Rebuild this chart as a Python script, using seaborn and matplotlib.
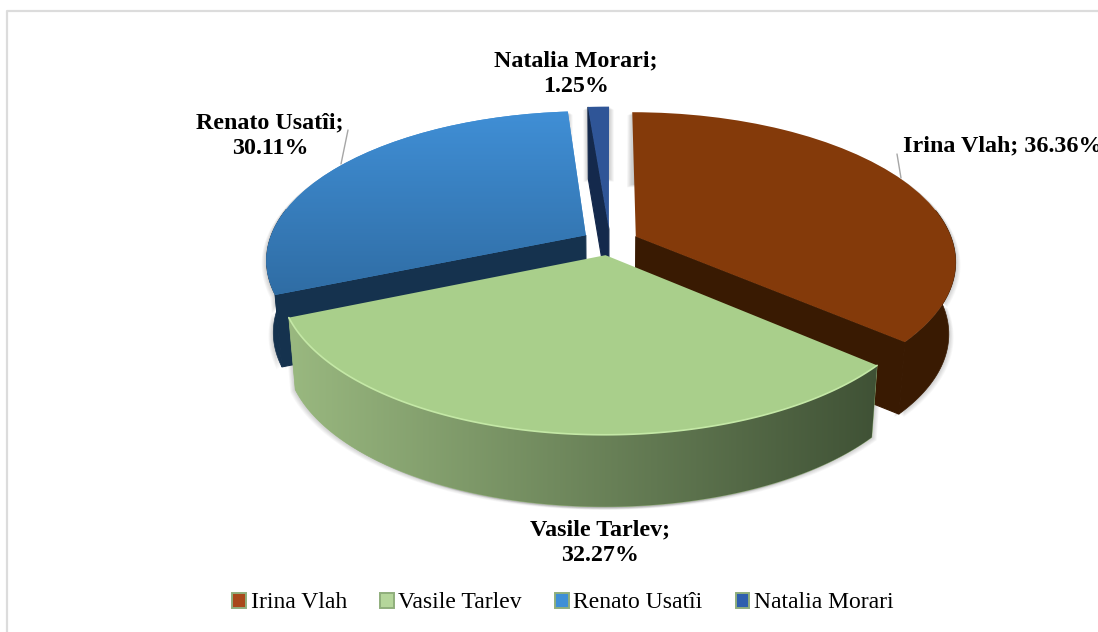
"""Exploded 3D-look pie of the vote share, drawn with a perspective disc transform."""
import numpy as np
import matplotlib
matplotlib.use("Agg")
import matplotlib.pyplot as plt
from matplotlib.patches import Patch
from matplotlib.transforms import Transform
import seaborn as sns

CANDIDATES = ["Irina Vlah", "Vasile Tarlev", "Renato Usatîi", "Natalia Morari"]
SHARES = [36.36, 32.27, 30.11, 1.25]
SHARE_LABELS = ["36.36%", "32.27%", "30.11%", "1.25%"]

EXPLODE = [0.09, 0.09, 0.09, 0.09]
DRAW_ORDER = [3, 2, 0, 1]
# which radial cut face looks at the viewer, as an index into the slice's arc
FACE_END = [0, None, -1, -1]

TOP_TOP = ["#843a0a", "#a9cf8b", "#408fd6", "#2f5597"]
TOP_BOTTOM = ["#843a0a", "#a9cf8b", "#2f6ca3", "#2f5597"]
WALL_LEFT = ["#391a02", "#9ab980", "#15324e", "#14294c"]
WALL_RIGHT = ["#391a02", "#3f5135", "#15324e", "#14294c"]
CUT_COLOR = ["#391a02", "#415235", "#15324e", "#14294c"]
LEGEND_COLOR = ["#a8481a", "#b5d69b", "#3f8fd6", "#2f5fae"]

CX, CY = 610, 242
RX, RY = 317, 146
PERSP = 0.161
DEPTH = 72
DEPTH_SCALE = 0.98
W, H = 1098, 632


class DiscProjection(Transform):
    """Maps the pie's unit disc to pixel positions, near edge larger than far edge."""
    input_dims = 2
    output_dims = 2
    is_affine = False

    def __init__(self, drop=0.0, scale=1.0):
        super().__init__()
        self.drop = drop
        self.scale = scale

    def transform_non_affine(self, values):
        values = np.asarray(values, dtype=float)
        u, v = values[:, 0], values[:, 1]
        w = 1 + PERSP * v
        return np.column_stack([CX + self.scale * RX * u / w,
                                CY + self.drop - RY * v / w])


def arc_points(wedge, n=120):
    t = np.radians(np.linspace(wedge.theta1, wedge.theta2, n))
    cx, cy = wedge.center
    return np.column_stack([cx + wedge.r * np.cos(t), cy + wedge.r * np.sin(t)])


def gradient_fill(ax, patch, c0, c1, extent, vertical, z):
    cmap = sns.blend_palette([c0, c1], as_cmap=True)
    grad = np.linspace(0, 1, 256)
    grad = grad[:, None] if vertical else grad[None, :]
    im = ax.imshow(grad, cmap=cmap, extent=extent, aspect="auto", zorder=z,
                   origin="upper", interpolation="bilinear")
    im.set_clip_path(patch)


def draw_slice(ax, wedge, i, z, top, bottom):
    arc = arc_points(wedge)
    arc_top = top.transform(arc)
    arc_bot = bottom.transform(arc)
    center = np.array([wedge.center])
    apex_top = top.transform(center)[0]
    apex_bot = bottom.transform(center)[0]

    wall = np.vstack([arc_top, arc_bot[::-1]])
    # soft shadow under the slice, spreads to both sides
    for side in (-1, 1):
        for d in range(1, 7):
            ax.fill(wall[:, 0] + side * d * 0.8, wall[:, 1] + d * 0.5, color="black",
                    alpha=0.03, lw=0, zorder=1)

    end = FACE_END[i]
    if end is not None:
        face = np.array([arc_top[end], apex_top, apex_bot, arc_bot[end]])
        ax.fill(face[:, 0], face[:, 1], facecolor=CUT_COLOR[i], edgecolor=CUT_COLOR[i],
                lw=0.8, zorder=z)

    # the back of the rim is hidden, only the part facing the viewer gets a wall
    facing = arc[:, 1] - wedge.center[1] < 0.2 * wedge.r
    if facing.sum() > 1:
        front = np.vstack([arc_top[facing], arc_bot[facing][::-1]])
        wall_patch = ax.fill(front[:, 0], front[:, 1], facecolor=WALL_LEFT[i],
                             edgecolor=WALL_LEFT[i], lw=0.5, zorder=z + 1)[0]
        if WALL_LEFT[i] != WALL_RIGHT[i]:
            gradient_fill(ax, wall_patch, WALL_LEFT[i], WALL_RIGHT[i],
                          (285, 880, H, 0), False, z + 2)

    wedge.set_transform(top + ax.transData)
    wedge.set_zorder(z + 3)
    wedge.set_facecolor(TOP_TOP[i])
    wedge.set_edgecolor("none")
    if TOP_TOP[i] != TOP_BOTTOM[i]:
        gradient_fill(ax, wedge, TOP_TOP[i], TOP_BOTTOM[i], (0, W, 300, 110), True, z + 4)


def main():
    sns.set_theme(style="white")
    plt.rcParams["font.family"] = ["Liberation Serif", "DejaVu Serif"]

    fig = plt.figure(figsize=(W / 100, H / 100), dpi=100, facecolor="white")
    ax = fig.add_axes([0, 0, 1, 1])
    wedges, _ = ax.pie(SHARES, explode=EXPLODE, startangle=90, counterclock=False)

    top = DiscProjection()
    bottom = DiscProjection(DEPTH, DEPTH_SCALE)
    for rank, i in enumerate(DRAW_ORDER):
        draw_slice(ax, wedges[i], i, 10 * (rank + 1), top, bottom)

    # light bevel along the front rim of the green slice
    rim = top.transform(arc_points(wedges[1]))
    ax.plot(rim[:, 0], rim[:, 1], color="#c4e8a6", lw=1.2, zorder=60)

    ax.set_aspect("auto")
    ax.set_xlim(0, W)
    ax.set_ylim(H, 0)
    ax.set_xticks([])
    ax.set_yticks([])
    ax.set_frame_on(False)

    # chart-area border, only left and top fall inside the crop
    ax.plot([6.5, 6.5, W], [H, 11, 11], color="#dcdcdc", lw=1.6, zorder=0)

    # leader lines
    ax.plot([897, 901], [154, 178], color="#a6a6a6", lw=1, zorder=70)
    ax.plot([348, 341], [130, 164], color="#a6a6a6", lw=1, zorder=70)

    label_style = dict(fontsize=17.3, fontweight="bold", color="black",
                       linespacing=1.3, zorder=80)
    ax.text(903, 146, f"{CANDIDATES[0]}; {SHARE_LABELS[0]}", ha="left", va="center", **label_style)
    ax.text(600, 543, f"{CANDIDATES[1]};\n{SHARE_LABELS[1]}", ha="center", va="center", **label_style)
    ax.text(270, 136, f"{CANDIDATES[2]};\n{SHARE_LABELS[2]}", ha="center", va="center", **label_style)
    ax.text(576, 74, f"{CANDIDATES[3]};\n{SHARE_LABELS[3]}", ha="center", va="center", **label_style)

    handles = [Patch(facecolor=c, edgecolor="#8fae7c", lw=1.4) for c in LEGEND_COLOR]
    ax.legend(handles, CANDIDATES, ncols=4, loc="center", bbox_to_anchor=(563 / W, 1 - 603 / H),
              frameon=False, fontsize=17, labelcolor="black", handlelength=0.58, handleheight=0.58,
              handletextpad=0.2, columnspacing=1.4, borderpad=0, borderaxespad=0)

    fig.savefig("out.png", dpi=100)
    plt.close(fig)


if __name__ == "__main__":
    main()
